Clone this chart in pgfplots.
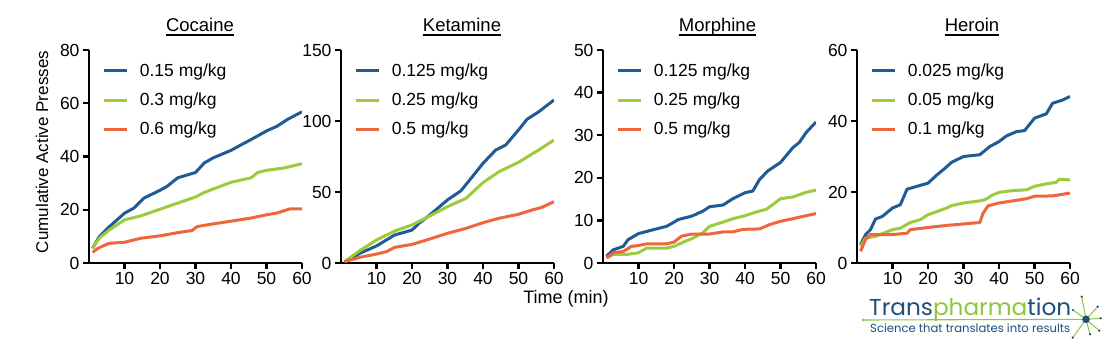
\documentclass[border=0pt]{standalone}
\usepackage{fontspec}
\setmainfont{Liberation Sans}
\newfontfamily\logofont{Poppins}
\usepackage{pgfplots}
\pgfplotsset{compat=1.18}
\definecolor{cblue}{HTML}{1F5B94}
\definecolor{cgreen}{HTML}{9CCB3B}
\definecolor{corange}{HTML}{F0663C}
\definecolor{logoblue}{HTML}{1D4E7C}
\definecolor{logogreen}{HTML}{8DC63F}
\newcommand{\fs}{\fontsize{17.5}{20}\selectfont}
\pgfplotsset{
  panel/.style={
    scale only axis, width=213pt, height=213pt,
    anchor=south west,
    xmin=0, xmax=60, ymin=0,
    axis x line*=bottom, axis y line*=left,
    axis line style={-, line width=2.4pt, black},
    xtick={10,20,30,40,50,60},
    tick align=outside,
    major tick length=6pt,
    every tick/.style={black, line width=2.4pt},
    tick label style={font=\fs},
    /pgf/number format/assume math mode=true,
    legend style={draw=none, fill=none, font=\fs, at={(0.05,0.955)}, anchor=north west, row sep=11pt, column sep=9pt, cells={anchor=west}},
    legend image code/.code={\draw[#1, line width=3pt] (0pt,0pt) -- (23pt,0pt);},
    legend cell align=left,
    every axis plot/.append style={line width=3pt, line join=round},
  }
}
\begin{document}
\begin{tikzpicture}
\useasboundingbox (0pt,0pt) rectangle (1120pt,351pt);
% Cocaine
\begin{axis}[panel, at={(89pt,88pt)}, ymax=80, ytick={0,20,40,60,80}]
\addplot[cblue] coordinates {(1,5.5) (2.9,9.9) (5.8,13.7) (10,18.7) (12.6,20.6) (15.5,24.4) (20,27.3) (22,28.8) (25,32) (30,34) (32.5,37.6) (35,39.5) (40,42.3) (43,44.5) (45.7,46.4) (50,49.6) (53,51.4) (56,54) (60,56.8)};
\addplot[cgreen] coordinates {(1,5.5) (3,9.5) (5.8,12.5) (10,16.2) (14.6,17.7) (20,20.2) (25,22.5) (30,24.8) (32.5,26.5) (35,27.8) (40,30.3) (45.7,32) (47.5,34) (50,34.8) (55,35.7) (60,37.3)};
\addplot[corange] coordinates {(1,4) (2.5,5.5) (4.6,6.8) (5.8,7.4) (10,7.8) (14.6,9.3) (20,10.2) (25,11.4) (29,12.2) (30.5,13.7) (35,14.7) (40,15.7) (45.7,16.9) (50,18.1) (53,18.8) (56.5,20.3) (60,20.3)};
\legend{0.15 mg/kg, 0.3 mg/kg, 0.6 mg/kg}
\end{axis}
% Ketamine
\begin{axis}[panel, at={(341pt,88pt)}, ymax=150, ytick={0,50,100,150}]
\addplot[cblue] coordinates {(1,0.9) (5.3,6.8) (10,12) (15.1,19.7) (20,23.2) (22,28) (25,33.8) (30,44.4) (33.8,50.9) (37,60.8) (40,70.2) (43.6,79.6) (46.4,83.1) (50,93.7) (52.4,101.2) (55.7,106.5) (60,114.8)};
\addplot[cgreen] coordinates {(1,1) (5.3,8.7) (10,16.2) (15.1,22.5) (20,26.8) (25,33.1) (30,39.7) (35.2,45.5) (40,56.6) (44.5,64.3) (50,70.9) (55.7,79.6) (60,86.6)};
\addplot[corange] coordinates {(1,0.9) (5.3,4) (10,6.3) (12.8,8) (15.1,11) (20,13.1) (25,16.9) (30,20.9) (35.2,24.4) (40,28.4) (44.5,31.5) (50,34.3) (53.8,37.3) (56.6,39.2) (60,43.2)};
\legend{0.125 mg/kg, 0.25 mg/kg, 0.5 mg/kg}
\end{axis}
% Morphine
\begin{axis}[panel, at={(603pt,88pt)}, ymax=50, ytick={0,10,20,30,40,50}]
\addplot[cblue] coordinates {(1,1.6) (2.9,3.1) (5.7,3.9) (7.1,5.5) (10,6.9) (15,8.0) (17.9,8.6) (20,9.6) (21.2,10.2) (25,11) (28.2,12.2) (30,13.2) (33.8,13.6) (36.6,15.1) (40,16.5) (42.2,16.9) (44.1,19.6) (46.4,21.6) (50,23.6) (53.5,27.1) (55.3,28.3) (57.2,30.6) (60,33.1)};
\addplot[cgreen] coordinates {(1,1.2) (2.9,2.0) (6.6,2.0) (10,2.4) (12.3,3.5) (17.9,3.5) (20,3.9) (22.6,4.9) (25,5.7) (28.2,7.1) (30,8.6) (33.8,9.6) (36.6,10.4) (40,11.1) (43.2,12) (46,12.6) (47.8,13.7) (50,15.1) (53.5,15.5) (57.2,16.6) (60,17.1)};
\addplot[corange] coordinates {(1,1.2) (2.9,2.4) (5.7,2.7) (8,3.9) (10,4.1) (12.3,4.5) (17.9,4.5) (20,4.9) (22.1,6.3) (25,6.8) (30,6.8) (33.8,7.3) (36.6,7.3) (39.4,7.9) (44.1,8.0) (46.9,9.0) (50,9.8) (53.5,10.4) (57.2,11.1) (60,11.6)};
\legend{0.125 mg/kg, 0.25 mg/kg, 0.5 mg/kg}
\end{axis}
% Heroin
\begin{axis}[panel, at={(857pt,88pt)}, ymax=60, ytick={0,20,40,60}]
\addplot[cblue] coordinates {(1,5.2) (2.4,8.0) (3.8,9.4) (5.2,12.4) (7.1,13.1) (10,15.5) (12.2,16.4) (14.1,20.8) (16.9,21.6) (20,22.5) (22.5,24.8) (24.8,26.7) (26.7,28.4) (30,30) (34.6,30.5) (37.4,32.8) (40,34.2) (42.1,35.8) (44.9,37) (47.2,37.3) (50,40.8) (53.3,42) (55.1,45) (57.9,45.9) (60,46.9)};
\addplot[cgreen] coordinates {(1,4.7) (2.4,7.0) (5.2,7.5) (10,9.4) (12.2,9.8) (15,11.4) (17.8,12.2) (20,13.6) (22.5,14.5) (25.3,15.5) (26.7,16.2) (30,16.9) (34.6,17.5) (36,17.8) (38.3,19.2) (40,19.9) (43.9,20.4) (47.7,20.6) (50,21.6) (53.3,22.3) (56.1,22.7) (57,23.6) (60,23.4)};
\addplot[corange] coordinates {(1,3.3) (2.4,6.6) (3.8,8) (10,8) (14.1,8.4) (15,9.4) (20,10) (25.3,10.6) (30,11) (34.6,11.4) (35.5,14) (36.9,16.1) (40,16.9) (43.9,17.5) (47.7,18.1) (50,18.8) (55.1,18.9) (60,19.7)};
\legend{0.025 mg/kg, 0.05 mg/kg, 0.1 mg/kg}
\end{axis}
% titles
\foreach \x/\t in {200/Cocaine, 462/Ketamine, 717.5/Morphine, 972/Heroin}{
  \node[anchor=base, inner sep=0pt, font=\fontsize{18.5}{21}\selectfont] (tt) at (\x pt,319pt) {\t};
  \draw[line width=1.3pt] ([yshift=-3pt]tt.base west) -- ([yshift=-3pt]tt.base east);
}
\node[rotate=90, font=\fontsize{17}{20}\selectfont] at (42pt,199pt) {Cumulative Active Presses};
\node[font=\fontsize{18}{20}\selectfont, inner sep=0pt] at (566pt,52pt) {Time (min)};
% logo
\draw[logogreen, line width=1.1pt] (863pt,31pt) -- (1086pt,31.7pt);
\fill[logogreen] (863pt,31pt) circle (1.5pt);
\foreach \ex/\ey in {1081.7/54.3, 1097.7/44.3, 1100.7/32.7, 1099.3/20.3, 1090/16.7, 1072.7/13.3, 1073/41}{
  \draw[logogreen, line width=1pt] (1086pt,31.7pt) -- (\ex pt,\ey pt);
  \fill[logoblue!80!black] (\ex pt,\ey pt) circle (1.2pt);
}
\fill[logoblue] (1086pt,31.7pt) circle (3.8pt);
\node[anchor=base west, inner sep=0pt] at (869pt,36pt) {\resizebox{202pt}{17.5pt}{\logofont\color{logoblue}Trans\color{logogreen}pharma\color{logoblue}tion}};
\node[anchor=base west, inner sep=0pt] at (870pt,18.5pt) {\resizebox{200pt}{!}{\logofont\color{logoblue}Science that translates into results}};
\end{tikzpicture}
\end{document}
